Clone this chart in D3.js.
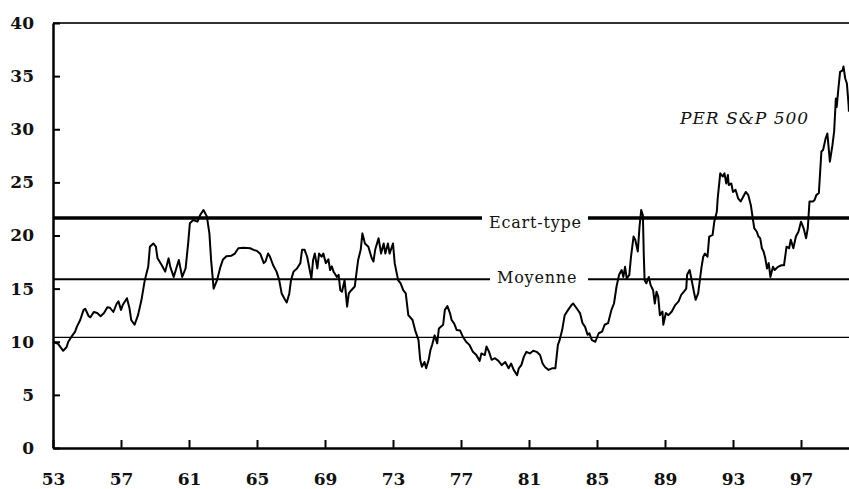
<!DOCTYPE html>
<html>
<head>
<meta charset="utf-8">
<script src="https://cdn.jsdelivr.net/npm/d3@7/dist/d3.min.js"></script>
<style>
  html, body { margin: 0; padding: 0; background: #fff; }
  svg { display: block; }
</style>
</head>
<body>
<div id="chart"></div>
<script>
// PER du S&P 500, 1953-1999
const years = [
  53.0, 53.3, 53.6, 53.8, 53.9, 54.1, 54.3, 54.4, 54.6, 54.8, 54.9, 55.1, 55.2, 55.4, 55.6, 55.8,
  56.0, 56.2, 56.35, 56.55, 56.75, 56.85, 57.0, 57.1, 57.35, 57.5, 57.6, 57.8, 58.0, 58.2, 58.4, 58.6,
  58.7, 58.9, 59.05, 59.15, 59.4, 59.6, 59.8, 59.9, 60.1, 60.4, 60.6, 60.8, 60.95, 61.05, 61.25, 61.5,
  61.65, 61.85, 62.05, 62.2, 62.3, 62.45, 62.65, 62.85, 63.0, 63.2, 63.5, 63.7, 63.9, 64.2, 64.6, 64.8,
  65.0, 65.2, 65.4, 65.5, 65.65, 65.75, 65.95, 66.15, 66.3, 66.45, 66.65, 66.75, 66.9, 67.0, 67.15, 67.35,
  67.55, 67.65, 67.8, 67.95, 68.2, 68.3, 68.4, 68.55, 68.65, 68.8, 68.9, 69.05, 69.2, 69.3, 69.4, 69.5,
  69.7, 69.8, 69.9, 70.0, 70.15, 70.3, 70.4, 70.55, 70.75, 70.85, 70.95, 71.1, 71.2, 71.35, 71.55, 71.75,
  71.85, 71.95, 72.15, 72.3, 72.45, 72.55, 72.7, 72.8, 73.0, 73.1, 73.3, 73.45, 73.6, 73.75, 73.9, 74.15,
  74.3, 74.5, 74.6, 74.7, 74.85, 74.95, 75.1, 75.2, 75.3, 75.45, 75.6, 75.7, 75.95, 76.05, 76.2, 76.35,
  76.45, 76.6, 76.75, 76.95, 77.1, 77.3, 77.5, 77.7, 77.9, 78.1, 78.2, 78.4, 78.5, 78.65, 78.8, 79.0,
  79.2, 79.4, 79.6, 79.8, 79.95, 80.1, 80.3, 80.4, 80.55, 80.7, 80.85, 81.05, 81.25, 81.45, 81.65, 81.8,
  81.95, 82.15, 82.35, 82.55, 82.7, 82.8, 82.95, 83.1, 83.3, 83.5, 83.6, 83.8, 84.0, 84.15, 84.3, 84.45,
  84.55, 84.7, 84.9, 85.1, 85.3, 85.45, 85.65, 85.85, 86.0, 86.15, 86.3, 86.45, 86.55, 86.65, 86.75, 86.9,
  87.0, 87.15, 87.25, 87.4, 87.5, 87.6, 87.7, 87.75, 87.8, 87.9, 88.05, 88.15, 88.3, 88.4, 88.5, 88.6,
  88.7, 88.85, 88.9, 89.05, 89.2, 89.4, 89.6, 89.8, 89.95, 90.1, 90.25, 90.3, 90.45, 90.55, 90.7, 90.8,
  90.95, 91.05, 91.15, 91.25, 91.35, 91.5, 91.6, 91.8, 91.9, 92.05, 92.1, 92.25, 92.4, 92.5, 92.6, 92.7,
  92.75, 92.9, 93.0, 93.15, 93.3, 93.45, 93.6, 93.75, 93.9, 94.05, 94.15, 94.25, 94.4, 94.5, 94.6, 94.7,
  94.8, 94.9, 95.0, 95.1, 95.2, 95.35, 95.45, 95.65, 95.85, 96.0, 96.15, 96.3, 96.4, 96.55, 96.7, 96.85,
  97.0, 97.15, 97.3, 97.4, 97.5, 97.7, 97.8, 97.9, 98.05, 98.2, 98.3, 98.45, 98.55, 98.7, 98.85, 98.95,
  99.05, 99.1, 99.2, 99.3, 99.45, 99.5, 99.6, 99.7, 99.8, 99.82
];
const per = [
  10.0, 9.8, 9.15, 9.5, 10.0, 10.5, 10.95, 11.4, 12.05, 13.0, 13.1, 12.4, 12.3, 12.8, 12.7, 12.4,
  12.7, 13.25, 13.2, 12.8, 13.6, 13.8, 13.0, 13.45, 14.1, 13.15, 12.05, 11.6, 12.5, 13.9, 15.8, 17.05,
  18.95, 19.25, 18.95, 17.85, 17.2, 16.6, 17.85, 17.05, 16.1, 17.7, 16.1, 16.9, 19.25, 21.15, 21.45, 21.3,
  21.9, 22.4, 21.8, 20.2, 17.7, 15.0, 15.8, 17.05, 17.75, 18.05, 18.1, 18.3, 18.8, 18.85, 18.8, 18.65,
  18.55, 18.25, 17.4, 17.55, 18.3, 18.05, 17.2, 16.6, 15.85, 14.55, 13.95, 13.7, 14.55, 15.8, 16.6, 16.9,
  17.4, 18.65, 18.65, 18.0, 15.95, 17.7, 18.3, 16.9, 18.3, 18.0, 18.3, 17.4, 17.75, 16.75, 17.1, 16.6,
  16.1, 16.3, 14.85, 14.7, 15.8, 13.3, 14.55, 14.85, 15.2, 16.45, 17.7, 18.65, 20.2, 19.25, 18.95, 17.85,
  17.55, 18.65, 19.75, 18.3, 19.25, 18.3, 19.25, 18.3, 19.25, 17.4, 15.8, 15.5, 14.85, 14.55, 12.5, 12.05,
  11.1, 10.15, 8.3, 7.65, 8.1, 7.5, 8.3, 9.2, 9.7, 10.6, 9.85, 11.25, 11.6, 13.0, 13.35, 12.7,
  12.05, 11.7, 11.1, 11.05, 10.5, 10.0, 9.7, 9.05, 8.75, 8.2, 8.9, 8.75, 9.55, 9.05, 8.3, 8.45,
  8.2, 7.8, 8.1, 7.5, 7.95, 7.35, 6.85, 7.5, 7.8, 8.6, 9.05, 8.9, 9.15, 9.05, 8.75, 7.95,
  7.6, 7.35, 7.5, 7.5, 9.7, 10.15, 11.1, 12.5, 13.0, 13.45, 13.6, 13.15, 12.7, 11.75, 11.4, 10.65,
  10.8, 10.15, 10.0, 10.8, 10.95, 11.6, 11.75, 13.0, 13.6, 15.2, 16.3, 16.75, 16.1, 17.05, 15.95, 16.3,
  18.0, 19.9, 19.6, 18.5, 20.8, 22.4, 21.9, 18.3, 15.8, 15.5, 16.1, 15.35, 14.85, 13.6, 14.7, 14.25,
  12.5, 12.85, 11.6, 12.7, 12.5, 12.85, 13.45, 13.8, 14.4, 14.7, 15.0, 16.3, 16.75, 15.95, 14.7, 13.95,
  14.55, 15.8, 17.05, 18.0, 18.3, 18.0, 19.9, 20.05, 21.3, 22.25, 23.5, 25.85, 25.55, 25.85, 24.9, 25.7,
  24.75, 24.9, 24.1, 24.3, 23.5, 23.2, 23.65, 24.1, 23.8, 22.85, 21.75, 20.7, 20.35, 19.9, 19.75, 18.8,
  18.5, 17.85, 16.9, 17.4, 16.1, 17.05, 16.75, 17.05, 17.2, 17.2, 18.95, 18.8, 19.6, 18.8, 19.9, 20.35,
  21.3, 20.7, 19.75, 20.7, 23.2, 23.2, 23.35, 23.8, 24.0, 27.9, 28.05, 29.15, 29.6, 26.95, 28.5, 29.8,
  32.9, 32.1, 33.85, 35.4, 35.55, 35.9, 34.8, 34.3, 32.3, 31.65
];

const tickYears = [53, 57, 61, 65, 69, 73, 77, 81, 85, 89, 93, 97];
const yTicks = [0, 5, 10, 15, 20, 25, 30, 35, 40];

// moyenne et bornes a +/- un ecart-type
const refLevels = [21.65, 15.88, 10.42];
const refLabels = ["Ecart-type", "Moyenne", ""];
const seriesLabel = "PER S&P 500";

const W = 849, H = 489;
const margin = {left: 53, top: 23, right: 0, bottom: 41};
const plotRight = W - margin.right;
const plotBottom = H - margin.bottom;
const serif = "'DejaVu Serif', 'Liberation Serif', serif";

const x = d3.scaleLinear()
  .domain([53, 53 + (plotRight - margin.left) / 17])
  .range([margin.left, plotRight]);
const y = d3.scaleLinear().domain([0, 40]).range([plotBottom, margin.top]);

const svg = d3.select('#chart').append('svg')
  .attr('width', W)
  .attr('height', H);

// ligne du haut (cadre a 40)
svg.append('line')
  .attr('x1', margin.left).attr('x2', plotRight)
  .attr('y1', y(40)).attr('y2', y(40))
  .attr('stroke', '#333').attr('stroke-width', 2);

// lignes de reference + leurs etiquettes
const refStyle = [
  {width: 3.5, textX: 489, gapEnd: 588, dy: 10},
  {width: 2, textX: 497, gapEnd: 588, dy: 4},
  {width: 1.2}
];
refLevels.forEach((lvl, i) => {
  const st = refStyle[i];
  const ly = y(lvl);
  if (refLabels[i]) {
    const t = svg.append('text')
      .attr('x', st.textX)
      .attr('y', ly + st.dy)
      .attr('font-family', serif)
      .attr('font-size', 16)
      .attr('letter-spacing', 0.8)
      .attr('fill', '#111')
      .text(refLabels[i]);
    const bb = t.node().getBBox();
    svg.append('line')
      .attr('x1', margin.left).attr('x2', bb.x - 7)
      .attr('y1', ly).attr('y2', ly)
      .attr('stroke', '#000').attr('stroke-width', st.width);
    svg.append('line')
      .attr('x1', st.gapEnd).attr('x2', plotRight)
      .attr('y1', ly).attr('y2', ly)
      .attr('stroke', '#000').attr('stroke-width', st.width);
  } else {
    svg.append('line')
      .attr('x1', margin.left).attr('x2', plotRight)
      .attr('y1', ly).attr('y2', ly)
      .attr('stroke', '#000').attr('stroke-width', st.width);
  }
});

// serie
const line = d3.line()
  .x((d, i) => x(years[i]))
  .y((d) => y(d));

svg.append('path')
  .datum(per)
  .attr('fill', 'none')
  .attr('stroke', '#000')
  .attr('stroke-width', 2)
  .attr('stroke-linejoin', 'round')
  .attr('d', line);

svg.append('text')
  .attr('x', 680)
  .attr('y', 124)
  .attr('font-family', serif)
  .attr('font-style', 'italic')
  .attr('font-size', 17)
  .attr('letter-spacing', 1)
  .attr('fill', '#111')
  .text(seriesLabel);

// axes
const yAxis = d3.axisLeft(y).tickValues(yTicks).tickSize(-7).tickSizeOuter(0).tickPadding(19);
const xAxis = d3.axisBottom(x).tickValues(tickYears).tickSize(-8).tickSizeOuter(0).tickPadding(25);

const gy = svg.append('g')
  .attr('transform', 'translate(' + margin.left + ',0)')
  .call(yAxis);
const gx = svg.append('g')
  .attr('transform', 'translate(0,' + plotBottom + ')')
  .call(xAxis);

[gx, gy].forEach((g) => {
  g.attr('font-family', serif).attr('font-size', 17).attr('font-weight', 'bold');
  g.select('.domain').attr('stroke', '#000').attr('stroke-width', 2.5);
  g.selectAll('.tick line').attr('stroke', '#000').attr('stroke-width', 2);
  g.selectAll('.tick text').attr('fill', '#111');
});
</script>
</body>
</html>
